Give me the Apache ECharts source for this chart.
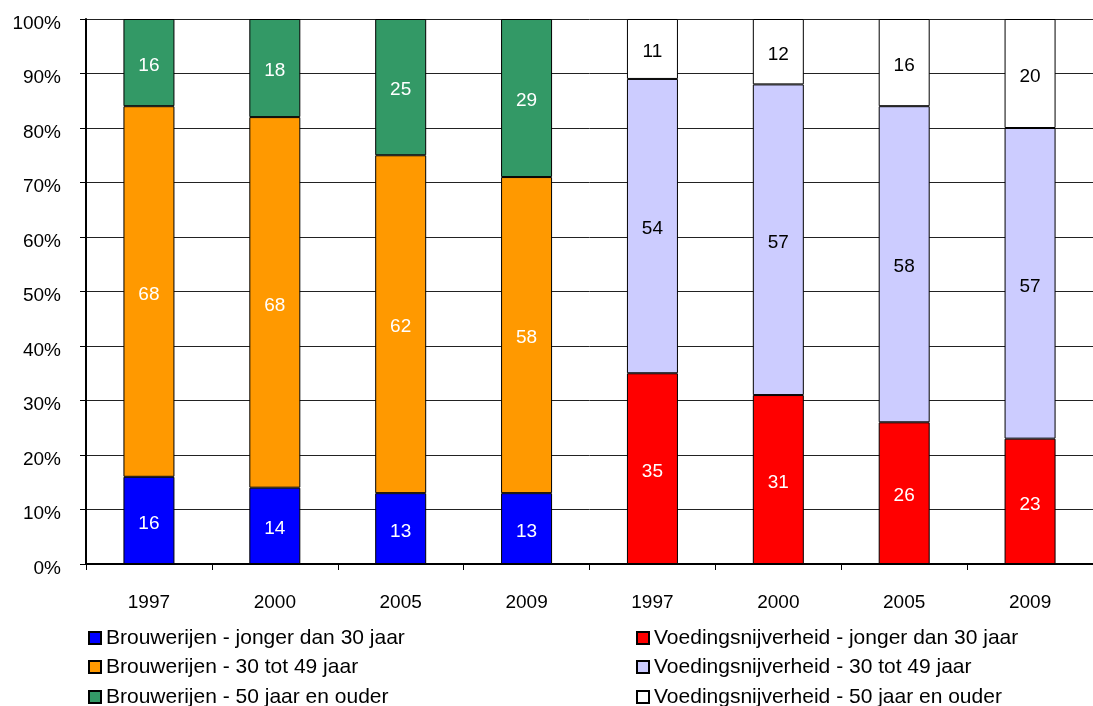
<!DOCTYPE html>
<html>
<head>
<meta charset="utf-8">
<script src="https://cdn.jsdelivr.net/npm/echarts@6/dist/echarts.min.js"></script>
<style>
html,body{margin:0;padding:0;background:#fff;}
#chart{width:1093px;height:706px;}
</style>
</head>
<body>
<div id="chart"></div>
<script>
const categories = ['1997','2000','2005','2009','1997','2000','2005','2009'];
const yTicks = [0,10,20,30,40,50,60,70,80,90,100];
const seriesNames = [
  'Brouwerijen - jonger dan 30 jaar',
  'Brouwerijen - 30 tot 49 jaar',
  'Brouwerijen - 50 jaar en ouder',
  'Voedingsnijverheid - jonger dan 30 jaar',
  'Voedingsnijverheid - 30 tot 49 jaar',
  'Voedingsnijverheid - 50 jaar en ouder'
];
const brouwJong = [16,14,13,13];
const brouwMid  = [68,68,62,58];
const brouwOud  = [16,18,25,29];
const voedJong  = [35,31,26,23];
const voedMid   = [54,57,58,57];
const voedOud   = [11,12,16,20];

const colors = ['#0000FF','#FF9900','#339966','#FF0000','#CCCCFF','#FFFFFF'];
const labelColors = ['#fff','#fff','#fff','#fff','#000','#000'];
const FONT = 'Liberation Sans, Arial, sans-serif';

const blank = ['-','-','-','-'];
const seriesData = [
  brouwJong.concat(blank),
  brouwMid.concat(blank),
  brouwOud.concat(blank),
  blank.concat(voedJong),
  blank.concat(voedMid),
  blank.concat(voedOud)
];

const series = seriesData.map((d, i) => ({
  name: seriesNames[i],
  type: 'bar',
  stack: 'total',
  barWidth: 51,
  data: d,
  itemStyle: { color: colors[i], borderColor: '#000', borderWidth: 1 },
  label: {
    show: true,
    position: 'inside',
    offset: [0, 3],
    color: labelColors[i],
    fontSize: 19,
    fontFamily: FONT,
    formatter: p => Math.round(p.value)
  },
  emphasis: { disabled: true }
}));

const legendCols = [88, 88, 88, 636, 636, 636];
const legendTops = [627, 656, 686, 627, 656, 686];
const legends = seriesNames.map((n, i) => ({
  data: [n],
  orient: 'vertical',
  left: legendCols[i], top: legendTops[i],
  padding: 0,
  icon: 'rect',
  itemWidth: 12, itemHeight: 12, itemGap: 0,
  textStyle: { fontSize: 21, color: '#000', fontFamily: FONT, lineHeight: 22 },
  selectedMode: false
}));

const chart = echarts.init(document.getElementById('chart'));
chart.setOption({
  animation: false,
  textStyle: { fontFamily: FONT },
  grid: { left: 86, top: 19, width: 1016, height: 545, containLabel: false },
  legend: legends,
  xAxis: {
    type: 'category',
    data: categories,
    axisLine: { show: true, lineStyle: { color: '#000', width: 2 } },
    axisTick: { show: true, length: 6, lineStyle: { color: '#000', width: 1 } },
    axisLabel: { fontSize: 19, color: '#000', fontFamily: FONT, margin: 29 },
    splitLine: { show: false }
  },
  yAxis: {
    type: 'value',
    min: yTicks[0],
    max: yTicks[yTicks.length-1],
    interval: 10,
    axisLine: { show: true, lineStyle: { color: '#000', width: 2 } },
    axisTick: { show: true, length: 6, lineStyle: { color: '#000', width: 1 } },
    axisLabel: {
      color: '#000', margin: 25,
      formatter: v => '{v|' + v + '%}',
      rich: { v: { fontSize: 19, color: '#000', fontFamily: FONT, padding: [9,0,0,0] } }
    },
    splitLine: { show: true, lineStyle: { color: '#222', width: 1 } }
  },
  series: series
});
</script>
</body>
</html>
